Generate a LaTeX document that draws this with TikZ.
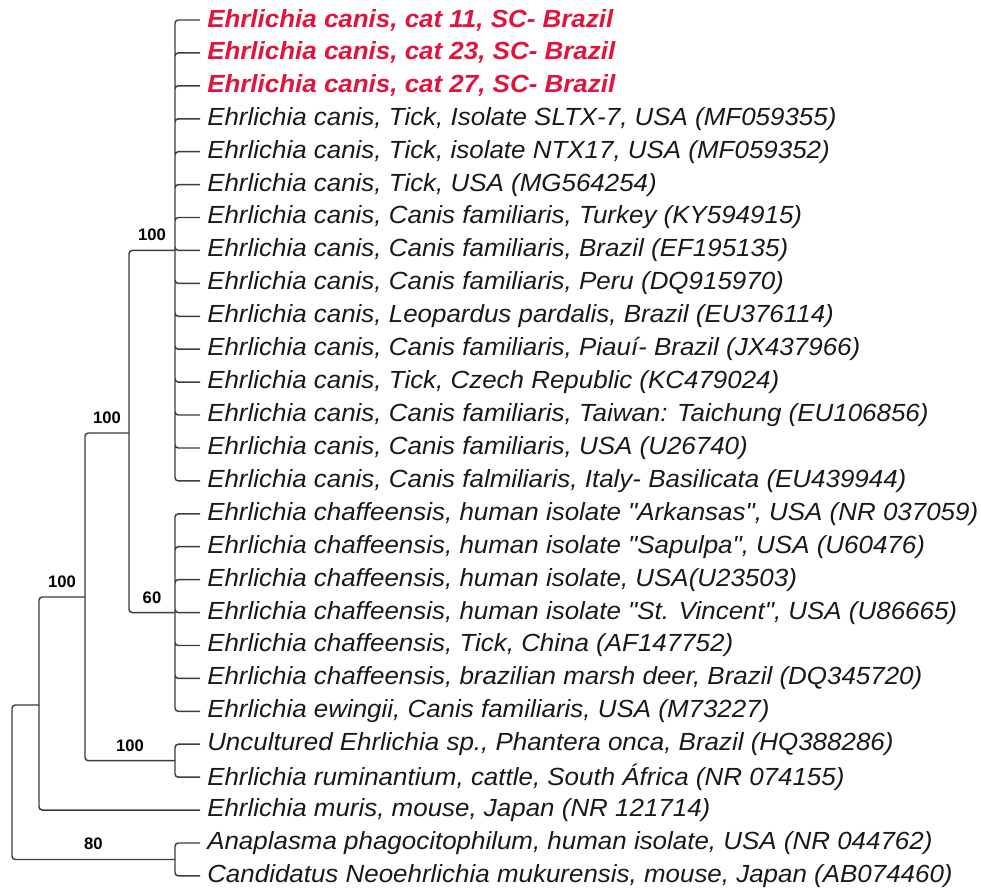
\documentclass[tikz,border=0pt]{standalone}
\usepackage{fontspec}
\setmainfont{Liberation Sans}
\usepackage{xcolor}
\usepackage{tikz}
\definecolor{catred}{HTML}{E0143C}
\definecolor{branchgray}{HTML}{3C3C3C}
\tikzset{
  branch/.style={draw=branchgray, line width=1.1pt, rounded corners=2.5pt},
  leaf/.style={anchor=west, inner xsep=5pt, inner ysep=0pt, xscale=1.046,
               font=\fontsize{18.6}{21}\selectfont\itshape, text=black!90},
  catleaf/.style={leaf, font=\fontsize{18.6}{21}\selectfont\bfseries\itshape, text=catred},
  boot/.style={font=\fontsize{12.5}{14}\selectfont\bfseries, inner sep=0pt, above=6.5pt}
}

\begin{document}
\begin{tikzpicture}[x=0.75pt,y=-0.75pt]
        \useasboundingbox (0,0) rectangle (981,891);
        % internal nodes
        \coordinate (root) at (12,782);
        \coordinate (nMur) at (39,705);
        \coordinate (nB) at (85,597);
        \coordinate (nA) at (129,433);
        \coordinate (nCan) at (175,250.4);
        \coordinate (nChaf) at (175,612.6);
        \coordinate (nUnc) at (175,760.7);
        \coordinate (nAna) at (175,859.5);
        % E. canis
        \node[catleaf] (l1) at (200,20) {Ehrlichia canis, cat 11, SC- Brazil};
        \node[catleaf] (l2) at (200,52.9) {Ehrlichia canis, cat 23, SC- Brazil};
        \node[catleaf] (l3) at (200,85.8) {Ehrlichia canis, cat 27, SC- Brazil};
        \node[leaf] (l4) at (200,118.8) {Ehrlichia canis, Tick, Isolate SLTX-7, USA (MF059355)};
        \node[leaf] (l5) at (200,151.7) {Ehrlichia canis, Tick, isolate NTX17, USA (MF059352)};
        \node[leaf] (l6) at (200,184.6) {Ehrlichia canis, Tick, USA (MG564254)};
        \node[leaf] (l7) at (200,217.5) {Ehrlichia canis, Canis familiaris, Turkey (KY594915)};
        \node[leaf] (l8) at (200,250.4) {Ehrlichia canis, Canis familiaris, Brazil (EF195135)};
        \node[leaf] (l9) at (200,283.4) {Ehrlichia canis, Canis familiaris, Peru (DQ915970)};
        \node[leaf] (l10) at (200,316.3) {Ehrlichia canis, Leopardus pardalis, Brazil (EU376114)};
        \node[leaf] (l11) at (200,349.2) {Ehrlichia canis, Canis familiaris, Piauí- Brazil (JX437966)};
        \node[leaf] (l12) at (200,382.1) {Ehrlichia canis, Tick, Czech Republic (KC479024)};
        \node[leaf] (l13) at (200,415.0) {Ehrlichia canis, Canis familiaris, Taiwan: Taichung (EU106856)};
        \node[leaf] (l14) at (200,448.0) {Ehrlichia canis, Canis familiaris, USA (U26740)};
        \node[leaf] (l15) at (200,480.9) {Ehrlichia canis, Canis falmiliaris, Italy- Basilicata (EU439944)};
        % E. chaffeensis / ewingii
        \node[leaf] (l16) at (200,513.8) {Ehrlichia chaffeensis, human isolate \textquotedbl Arkansas\textquotedbl, USA (NR 037059)};
        \node[leaf] (l17) at (200,546.7) {Ehrlichia chaffeensis, human isolate \textquotedbl Sapulpa\textquotedbl, USA (U60476)};
        \node[leaf] (l18) at (200,579.6) {Ehrlichia chaffeensis, human isolate, USA(U23503)};
        \node[leaf] (l19) at (200,612.6) {Ehrlichia chaffeensis, human isolate \textquotedbl St. Vincent\textquotedbl, USA (U86665)};
        \node[leaf] (l20) at (200,645.5) {Ehrlichia chaffeensis, Tick, China (AF147752)};
        \node[leaf] (l21) at (200,678.4) {Ehrlichia chaffeensis, brazilian marsh deer, Brazil (DQ345720)};
        \node[leaf] (l22) at (200,711.3) {Ehrlichia ewingii, Canis familiaris, USA (M73227)};
        % the rest
        \node[leaf] (l23) at (200,744.2) {Uncultured Ehrlichia sp., Phantera onca, Brazil (HQ388286)};
        \node[leaf] (l24) at (200,777.2) {Ehrlichia ruminantium, cattle, South África (NR 074155)};
        \node[leaf] (l25) at (200,810.1) {Ehrlichia muris, mouse, Japan (NR 121714)};
        \node[leaf] (l26) at (200,843.0) {Anaplasma phagocitophilum, human isolate, USA (NR 044762)};
        \node[leaf] (l27) at (200,875.9) {Candidatus Neoehrlichia mukurensis, mouse, Japan (AB074460)};
        % branches
        \draw[branch] (root) |- (nMur) (root) |- node[boot,pos=0.75] {80} (nAna);
        \draw[branch] (nMur) |- node[boot,pos=0.75] {100} (nB) (nMur) |- (l25.west);
        \draw[branch] (nB) |- node[boot,pos=0.75] {100} (nA) (nB) |- node[boot,pos=0.75] {100} (nUnc);
        \draw[branch] (nA) |- node[boot,pos=0.75] {100} (nCan) (nA) |- node[boot,pos=0.75] {60} (nChaf);
        \draw[branch] (nCan) |- (l1.west) (nCan) |- (l2.west) (nCan) |- (l3.west)
          (nCan) |- (l4.west) (nCan) |- (l5.west) (nCan) |- (l6.west) (nCan) |- (l7.west)
          (nCan) |- (l8.west) (nCan) |- (l9.west) (nCan) |- (l10.west) (nCan) |- (l11.west)
          (nCan) |- (l12.west) (nCan) |- (l13.west) (nCan) |- (l14.west) (nCan) |- (l15.west);
        \draw[branch] (nChaf) |- (l16.west) (nChaf) |- (l17.west) (nChaf) |- (l18.west)
          (nChaf) |- (l19.west) (nChaf) |- (l20.west) (nChaf) |- (l21.west) (nChaf) |- (l22.west);
        \draw[branch] (nUnc) |- (l23.west) (nUnc) |- (l24.west);
        \draw[branch] (nAna) |- (l26.west) (nAna) |- (l27.west);
      \end{tikzpicture}
\end{document}
